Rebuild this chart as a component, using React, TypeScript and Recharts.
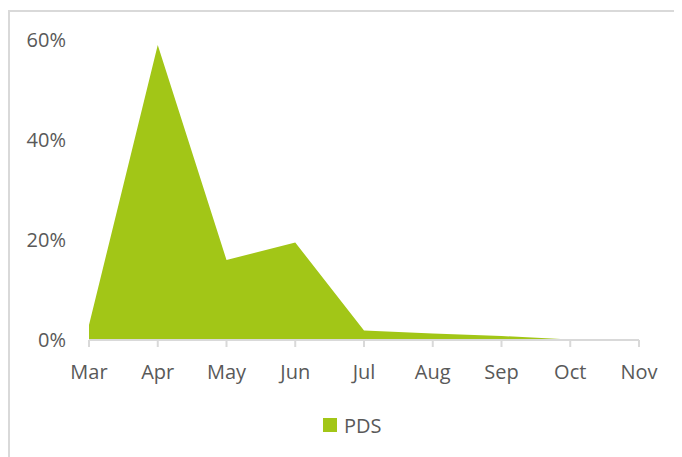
import { Area, AreaChart, XAxis, YAxis } from "recharts";

const months = ["Mar", "Apr", "May", "Jun", "Jul", "Aug", "Sep", "Oct", "Nov"];
const pds = [3, 59, 16, 19.5, 1.9, 1.3, 0.8, 0.1, 0];
const yTicks = [0, 20, 40, 60];

const data = months.map((month, i) => ({ month, PDS: pds[i] }));

const GREEN = "#A2C617";
const TEXT = "#595959";
const AXIS = "#D9D9D9";
const FONT = "'Open Sans', sans-serif";

function LegendBox() {
  return (
    <div
      style={{
        position: "absolute",
        top: 400,
        left: 313,
        display: "flex",
        alignItems: "center",
        height: 26,
        fontFamily: FONT,
        fontSize: 20,
        color: TEXT,
      }}
    >
      <span style={{ width: 14, height: 14, backgroundColor: GREEN, marginRight: 7, display: "inline-block" }} />
      PDS
    </div>
  );
}

export default function App() {
  return (
    <div
      style={{
        position: "relative",
        marginTop: 2,
        width: 672,
        height: 445,
        borderTop: `2px solid ${AXIS}`,
        borderLeft: `2px solid ${AXIS}`,
      }}
    >
      <AreaChart width={672} height={445} data={data} margin={{ top: 28, right: 43, left: 0, bottom: 0 }}>
        <XAxis
          dataKey="month"
          axisLine={{ stroke: AXIS, strokeWidth: 2 }}
          tickLine={{ stroke: AXIS, strokeWidth: 2 }}
          tickSize={7}
          tickMargin={18}
          height={117}
          interval={0}
          tick={{ fill: TEXT, fontSize: 20, fontFamily: FONT }}
        />
        <YAxis
          width={79}
          domain={[0, 60]}
          ticks={yTicks}
          axisLine={false}
          tickLine={false}
          tickSize={0}
          tickMargin={23}
          tickFormatter={(v) => `${v}%`}
          tick={{ fill: TEXT, fontSize: 20, fontFamily: FONT }}
        />
        <Area
          type="linear"
          dataKey="PDS"
          fill={GREEN}
          fillOpacity={1}
          stroke="none"
          isAnimationActive={false}
        />
      </AreaChart>
      <LegendBox />
    </div>
  );
}
